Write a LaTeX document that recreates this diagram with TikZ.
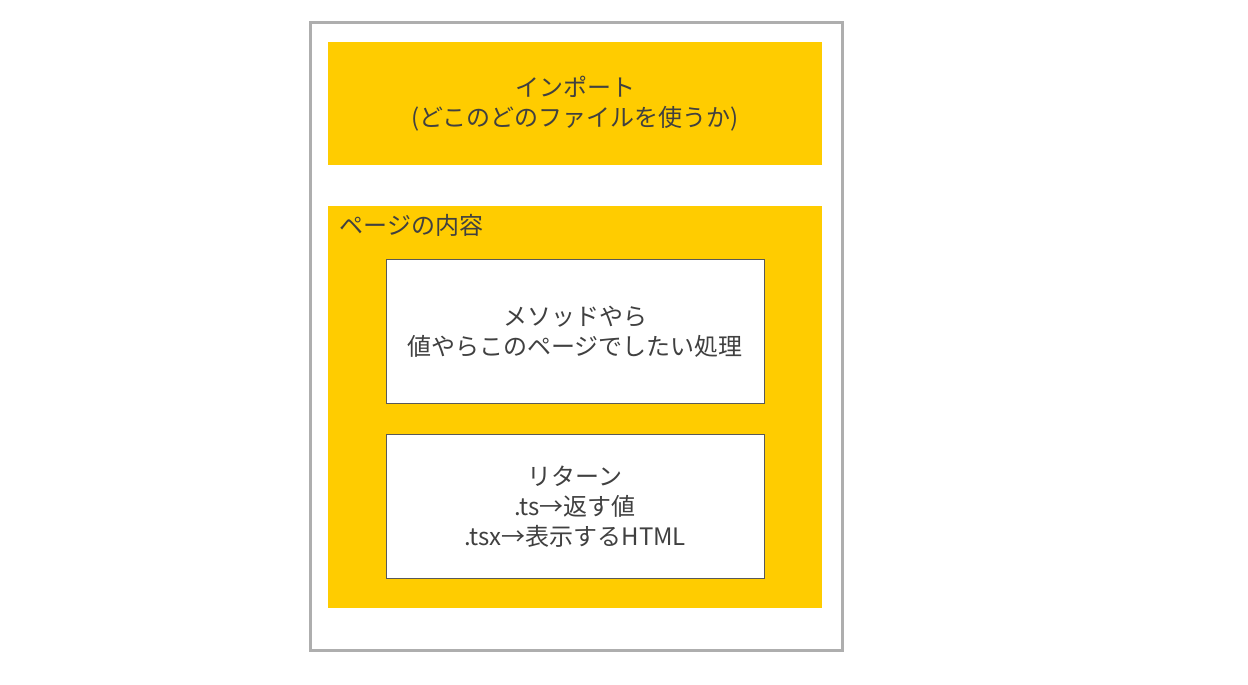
\documentclass[tikz,border=0pt]{standalone}
\usepackage{fontspec}
\setmainfont{Noto Sans CJK JP}
\definecolor{gold}{HTML}{FFCC00}
\definecolor{frame}{HTML}{AEAEAE}
\definecolor{txt}{HTML}{404040}
\definecolor{inner}{HTML}{595959}
\begin{document}
\begin{tikzpicture}[x=1pt,y=-1pt,
  lbl/.style={text=txt,font=\fontsize{24}{30}\selectfont,align=center},
  panel/.style={fill=gold,draw=none},
  whitebox/.style={fill=white,draw=inner,line width=0.8pt}]
\useasboundingbox (0,0) rectangle (1248,685);
\fill[white] (0,0) rectangle (1248,685);
\draw[frame,line width=3pt] (310,22.5) rectangle (842,650);
\fill[gold] (328,42) rectangle (822,165);
\node[lbl] (imp) at (575,104) {インポート\\(どこのどのファイルを使うか)};
\fill[gold] (328,206) rectangle (822,608);
\node[lbl,anchor=west] (page) at (336,225) {ページの内容};
\draw[whitebox] (386,259.5) rectangle (764,403);
\node[lbl] (m) at (575,332) {メソッドやら\\値やらこのページでしたい処理};
\draw[whitebox] (386,434.5) rectangle (764,578);
\node[lbl] (r) at (575,507) {リターン\\.ts→返す値\\.tsx→表示するHTML};
\end{tikzpicture}
\end{document}
